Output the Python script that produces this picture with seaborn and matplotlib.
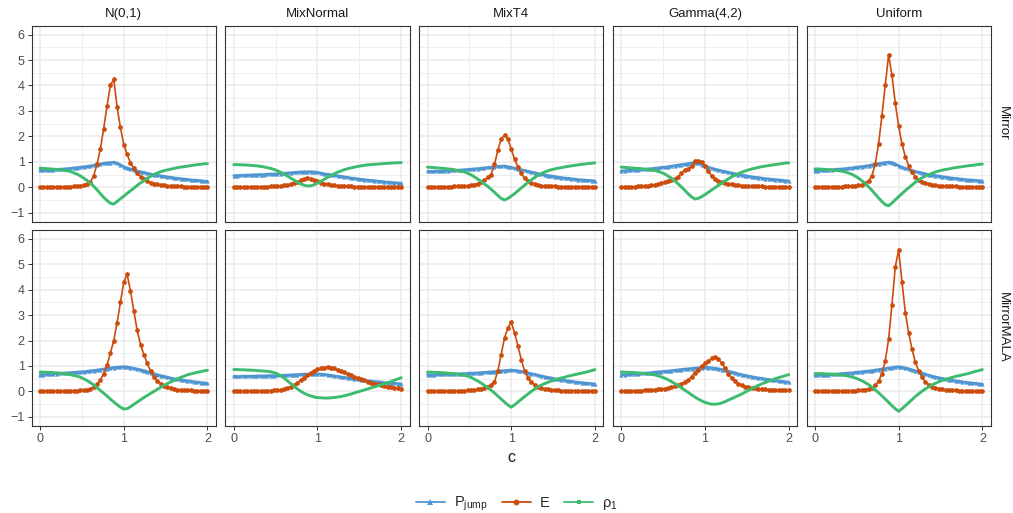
import numpy as np
import pandas as pd
import seaborn as sns
import matplotlib
matplotlib.use('Agg')
import matplotlib.pyplot as plt
from matplotlib.ticker import FixedLocator

# grid of c values (0 .. 2 step 0.04)
c = np.round(np.linspace(0, 2, 51), 2)

dists = ['N(0,1)', 'MixNormal', 'MixT4', 'Gamma(4,2)', 'Uniform']
samplers = ['Mirror', 'MirrorMALA']
metrics = [r'$\mathregular{P_{jump}}$', 'E', r'$\mathregular{ρ_1}$']

# ---- N(0,1)
pjump_n_m = [0.66,0.66,0.67,0.68,0.69,0.70,0.71,0.72,0.73,0.74,
             0.76,0.77,0.79,0.80,0.82,0.84,0.86,0.89,0.91,0.94,
             0.96,0.97,0.98,0.95,0.88,0.81,0.76,0.72,0.68,0.64,
             0.61,0.58,0.55,0.52,0.49,0.47,0.45,0.43,0.41,0.39,
             0.37,0.35,0.34,0.32,0.31,0.29,0.28,0.27,0.26,0.24,0.23]
e_n_m = [0.01,0.01,0.01,0.01,0.01,0.01,0.01,0.02,0.02,0.02,
         0.03,0.04,0.05,0.08,0.12,0.20,0.45,0.90,1.50,2.30,
         3.20,4.00,4.25,3.15,2.35,1.67,1.30,0.95,0.75,0.55,
         0.42,0.32,0.24,0.18,0.14,0.11,0.08,0.07,0.05,0.04,
         0.04,0.03,0.03,0.02,0.02,0.02,0.02,0.01,0.01,0.01,0.01]
rho_n_m = [0.75,0.74,0.73,0.72,0.71,0.70,0.69,0.67,0.65,0.62,
           0.57,0.52,0.45,0.36,0.27,0.16,0.04,-0.10,-0.25,-0.40,
           -0.52,-0.63,-0.66,-0.56,-0.45,-0.35,-0.24,-0.14,-0.04,0.07,
           0.17,0.26,0.35,0.43,0.50,0.56,0.61,0.65,0.68,0.71,
           0.74,0.77,0.79,0.81,0.83,0.85,0.87,0.89,0.90,0.92,0.93]
pjump_n_mm = [0.66,0.66,0.67,0.68,0.69,0.70,0.71,0.72,0.73,0.74,
              0.75,0.76,0.77,0.78,0.79,0.81,0.82,0.84,0.86,0.88,
              0.90,0.92,0.94,0.95,0.96,0.97,0.96,0.94,0.91,0.88,
              0.85,0.82,0.78,0.74,0.70,0.66,0.62,0.59,0.56,0.53,
              0.50,0.48,0.46,0.44,0.42,0.40,0.38,0.37,0.35,0.34,0.32]
e_n_mm = [0.01,0.01,0.01,0.01,0.01,0.01,0.02,0.02,0.02,0.02,
          0.03,0.03,0.04,0.05,0.07,0.10,0.17,0.28,0.45,0.70,
          1.05,1.50,2.00,2.70,3.50,4.30,4.60,3.95,3.16,2.40,
          1.84,1.45,1.10,0.80,0.58,0.42,0.30,0.22,0.16,0.12,
          0.09,0.07,0.06,0.05,0.04,0.04,0.03,0.03,0.02,0.02,0.02]
rho_n_mm = [0.76,0.76,0.75,0.75,0.74,0.73,0.72,0.70,0.68,0.66,
            0.63,0.60,0.56,0.50,0.43,0.35,0.26,0.15,0.04,-0.07,
            -0.18,-0.30,-0.41,-0.52,-0.62,-0.69,-0.68,-0.60,-0.51,-0.42,
            -0.33,-0.24,-0.16,-0.08,0.00,0.08,0.16,0.24,0.31,0.37,
            0.44,0.50,0.55,0.60,0.65,0.69,0.72,0.75,0.78,0.81,0.83]

# ---- MixNormal
pjump_mn_m = [0.46,0.46,0.47,0.47,0.48,0.48,0.49,0.49,0.50,0.50,
              0.51,0.52,0.52,0.53,0.54,0.55,0.56,0.57,0.58,0.59,
              0.60,0.61,0.61,0.61,0.60,0.58,0.56,0.53,0.51,0.49,
              0.47,0.45,0.43,0.41,0.39,0.36,0.35,0.33,0.31,0.30,
              0.28,0.27,0.26,0.24,0.23,0.21,0.20,0.19,0.18,0.17,0.16]
e_mn_m = [0.00,0.00,0.00,0.00,0.01,0.01,0.01,0.01,0.01,0.02,
          0.02,0.03,0.03,0.04,0.05,0.07,0.09,0.12,0.16,0.21,
          0.27,0.32,0.37,0.33,0.28,0.23,0.18,0.14,0.11,0.09,
          0.07,0.06,0.05,0.04,0.03,0.03,0.02,0.02,0.02,0.01,
          0.01,0.01,0.01,0.01,0.01,0.00,0.00,0.00,0.00,0.00,0.00]
rho_mn_m = [0.89,0.89,0.88,0.88,0.87,0.86,0.85,0.84,0.82,0.80,
            0.77,0.74,0.70,0.65,0.59,0.52,0.44,0.36,0.28,0.20,
            0.13,0.08,0.05,0.06,0.10,0.16,0.23,0.31,0.39,0.46,
            0.53,0.59,0.64,0.69,0.73,0.76,0.79,0.82,0.84,0.86,
            0.88,0.89,0.90,0.91,0.92,0.93,0.94,0.95,0.96,0.96,0.97]
pjump_mn_mm = [0.59,0.59,0.59,0.60,0.60,0.60,0.60,0.61,0.61,0.61,
               0.62,0.62,0.62,0.63,0.63,0.64,0.64,0.65,0.66,0.66,
               0.67,0.68,0.68,0.69,0.69,0.69,0.68,0.67,0.65,0.63,
               0.61,0.59,0.57,0.55,0.53,0.51,0.49,0.47,0.45,0.44,
               0.42,0.41,0.39,0.38,0.37,0.35,0.34,0.33,0.32,0.31,0.30]
e_mn_mm = [0.00,0.00,0.00,0.00,0.01,0.01,0.01,0.01,0.02,0.02,
           0.03,0.03,0.04,0.05,0.07,0.10,0.13,0.18,0.25,0.34,
           0.44,0.54,0.64,0.73,0.81,0.87,0.91,0.94,0.95,0.94,
           0.91,0.86,0.81,0.75,0.69,0.63,0.57,0.52,0.47,0.43,
           0.39,0.35,0.31,0.28,0.25,0.22,0.19,0.17,0.15,0.13,0.11]
rho_mn_mm = [0.86,0.86,0.85,0.85,0.84,0.84,0.83,0.82,0.81,0.80,
             0.79,0.77,0.74,0.69,0.62,0.53,0.42,0.31,0.20,0.10,
             0.01,-0.07,-0.13,-0.18,-0.22,-0.24,-0.25,-0.26,-0.26,-0.25,
             -0.24,-0.22,-0.20,-0.17,-0.14,-0.10,-0.06,-0.02,0.02,0.06,
             0.10,0.14,0.18,0.22,0.26,0.30,0.34,0.39,0.44,0.49,0.54]

# ---- MixT4
pjump_t4_m = [0.62,0.62,0.63,0.63,0.64,0.64,0.65,0.66,0.66,0.67,
              0.68,0.69,0.70,0.71,0.72,0.73,0.75,0.76,0.78,0.79,
              0.81,0.82,0.83,0.83,0.81,0.78,0.75,0.72,0.69,0.66,
              0.63,0.60,0.57,0.54,0.51,0.48,0.46,0.44,0.42,0.40,
              0.38,0.36,0.35,0.33,0.32,0.30,0.29,0.28,0.27,0.26,0.25]
e_t4_m = [0.01,0.01,0.01,0.01,0.01,0.02,0.02,0.02,0.03,0.03,
          0.04,0.05,0.06,0.08,0.10,0.14,0.20,0.28,0.40,0.50,
          0.90,1.45,1.90,2.05,1.90,1.50,1.10,0.80,0.55,0.35,
          0.24,0.16,0.11,0.08,0.06,0.05,0.04,0.03,0.03,0.02,
          0.02,0.02,0.01,0.01,0.01,0.01,0.01,0.01,0.01,0.01,0.01]
rho_t4_m = [0.79,0.78,0.77,0.76,0.75,0.74,0.72,0.71,0.69,0.66,
            0.63,0.60,0.55,0.49,0.41,0.32,0.23,0.13,0.03,-0.08,
            -0.20,-0.32,-0.44,-0.50,-0.44,-0.35,-0.25,-0.14,-0.03,0.08,
            0.19,0.29,0.38,0.47,0.54,0.60,0.65,0.69,0.72,0.75,
            0.77,0.80,0.82,0.84,0.86,0.88,0.90,0.91,0.93,0.94,0.96]
pjump_t4_mm = [0.66,0.66,0.66,0.67,0.67,0.67,0.68,0.68,0.69,0.69,
               0.70,0.70,0.71,0.72,0.72,0.73,0.74,0.75,0.76,0.77,
               0.78,0.80,0.81,0.82,0.83,0.84,0.83,0.81,0.79,0.76,
               0.73,0.70,0.67,0.64,0.61,0.58,0.55,0.53,0.50,0.48,
               0.46,0.44,0.42,0.40,0.38,0.36,0.35,0.33,0.32,0.31,0.29]
e_t4_mm = [0.01,0.01,0.01,0.01,0.01,0.01,0.02,0.02,0.02,0.02,
           0.03,0.03,0.04,0.05,0.06,0.08,0.10,0.13,0.18,0.25,
           0.38,0.80,1.45,2.10,2.50,2.72,2.30,1.80,1.25,0.80,
           0.53,0.36,0.26,0.18,0.13,0.10,0.08,0.06,0.05,0.04,
           0.03,0.03,0.02,0.02,0.02,0.02,0.01,0.01,0.01,0.01,0.01]
rho_t4_mm = [0.76,0.76,0.75,0.75,0.74,0.73,0.72,0.71,0.70,0.68,
             0.66,0.63,0.60,0.55,0.48,0.41,0.33,0.24,0.15,0.05,
             -0.06,-0.18,-0.30,-0.42,-0.53,-0.62,-0.53,-0.42,-0.31,-0.20,
             -0.10,0.00,0.09,0.18,0.25,0.31,0.36,0.41,0.45,0.49,
             0.53,0.56,0.60,0.63,0.66,0.69,0.72,0.75,0.78,0.82,0.86]

# ---- Gamma(4,2)
pjump_g_m = [0.64,0.65,0.66,0.67,0.68,0.69,0.70,0.71,0.72,0.73,
             0.75,0.76,0.78,0.79,0.81,0.83,0.85,0.87,0.89,0.91,
             0.93,0.95,0.96,0.94,0.89,0.84,0.79,0.75,0.71,0.68,
             0.65,0.62,0.59,0.56,0.53,0.50,0.48,0.46,0.43,0.41,
             0.39,0.38,0.36,0.34,0.33,0.31,0.30,0.29,0.27,0.26,0.25]
e_g_m = [0.00,0.01,0.01,0.02,0.02,0.03,0.04,0.05,0.06,0.08,
         0.10,0.12,0.15,0.19,0.23,0.29,0.34,0.42,0.55,0.68,
         0.72,0.82,1.02,1.05,1.00,0.85,0.62,0.45,0.32,0.24,
         0.20,0.16,0.13,0.11,0.09,0.07,0.06,0.05,0.05,0.04,
         0.03,0.03,0.03,0.02,0.02,0.02,0.02,0.01,0.01,0.01,0.01]
rho_g_m = [0.79,0.78,0.77,0.76,0.75,0.74,0.73,0.71,0.70,0.68,
           0.66,0.62,0.58,0.52,0.44,0.35,0.25,0.13,0.01,-0.12,
           -0.26,-0.38,-0.46,-0.44,-0.37,-0.29,-0.20,-0.11,-0.02,0.07,
           0.16,0.25,0.33,0.41,0.48,0.54,0.59,0.64,0.68,0.72,
           0.75,0.78,0.81,0.83,0.85,0.87,0.89,0.91,0.93,0.95,0.96]
pjump_g_mm = [0.66,0.66,0.67,0.68,0.69,0.70,0.71,0.72,0.73,0.74,
              0.76,0.77,0.78,0.79,0.80,0.82,0.83,0.85,0.86,0.88,
              0.89,0.90,0.92,0.93,0.94,0.95,0.94,0.93,0.91,0.89,
              0.86,0.83,0.80,0.76,0.73,0.69,0.66,0.63,0.60,0.58,
              0.55,0.53,0.51,0.49,0.47,0.45,0.43,0.41,0.40,0.38,0.37]
e_g_mm = [0.00,0.01,0.01,0.02,0.02,0.03,0.03,0.04,0.05,0.06,
          0.07,0.08,0.09,0.11,0.13,0.16,0.20,0.25,0.30,0.38,
          0.45,0.58,0.74,0.86,1.00,1.10,1.18,1.30,1.37,1.26,
          1.12,0.92,0.68,0.52,0.40,0.30,0.24,0.19,0.16,0.14,
          0.12,0.10,0.09,0.08,0.07,0.06,0.06,0.05,0.05,0.04,0.04]
rho_g_mm = [0.76,0.76,0.75,0.75,0.74,0.73,0.72,0.70,0.69,0.67,
            0.65,0.61,0.57,0.52,0.46,0.39,0.31,0.23,0.14,0.05,
            -0.04,-0.13,-0.22,-0.30,-0.37,-0.43,-0.47,-0.50,-0.50,-0.49,
            -0.45,-0.40,-0.34,-0.28,-0.22,-0.16,-0.10,-0.03,0.04,0.11,
            0.18,0.24,0.30,0.35,0.40,0.45,0.50,0.54,0.58,0.62,0.66]

# ---- Uniform
pjump_u_m = [0.64,0.65,0.66,0.67,0.68,0.69,0.70,0.71,0.72,0.73,
             0.75,0.76,0.78,0.80,0.81,0.83,0.85,0.88,0.90,0.93,
             0.95,0.97,0.99,0.97,0.91,0.85,0.79,0.74,0.70,0.66,
             0.62,0.59,0.56,0.53,0.50,0.48,0.46,0.44,0.42,0.40,
             0.38,0.36,0.35,0.33,0.32,0.30,0.29,0.28,0.27,0.26,0.25]
e_u_m = [0.01,0.01,0.01,0.01,0.01,0.01,0.02,0.02,0.02,0.03,
         0.03,0.04,0.05,0.07,0.10,0.15,0.25,0.45,0.90,1.70,
         2.80,4.00,5.20,4.40,3.30,2.40,1.70,1.20,0.85,0.60,
         0.42,0.30,0.22,0.16,0.12,0.09,0.07,0.06,0.05,0.04,
         0.03,0.03,0.03,0.02,0.02,0.02,0.02,0.01,0.01,0.01,0.01]
rho_u_m = [0.72,0.72,0.71,0.70,0.69,0.68,0.67,0.65,0.63,0.60,
           0.56,0.51,0.44,0.36,0.26,0.15,0.02,-0.12,-0.27,-0.42,
           -0.56,-0.68,-0.73,-0.62,-0.49,-0.37,-0.25,-0.13,-0.02,0.09,
           0.20,0.29,0.37,0.44,0.50,0.55,0.60,0.64,0.67,0.70,
           0.72,0.75,0.77,0.79,0.81,0.83,0.85,0.86,0.88,0.90,0.91]
pjump_u_mm = [0.63,0.64,0.65,0.65,0.66,0.67,0.68,0.69,0.70,0.71,
              0.72,0.73,0.75,0.76,0.77,0.79,0.80,0.82,0.84,0.86,
              0.88,0.90,0.92,0.94,0.96,0.97,0.95,0.92,0.89,0.85,
              0.81,0.77,0.72,0.68,0.64,0.60,0.57,0.54,0.51,0.49,
              0.46,0.44,0.42,0.40,0.38,0.36,0.35,0.33,0.32,0.30,0.29]
e_u_mm = [0.01,0.01,0.01,0.01,0.01,0.01,0.01,0.02,0.02,0.02,
          0.02,0.03,0.03,0.04,0.05,0.07,0.10,0.15,0.24,0.40,
          0.70,1.20,2.05,3.40,4.90,5.55,4.30,3.10,2.30,1.65,
          1.15,0.80,0.55,0.38,0.26,0.19,0.14,0.11,0.08,0.06,
          0.05,0.04,0.04,0.03,0.03,0.02,0.02,0.02,0.02,0.01,0.01]
rho_u_mm = [0.70,0.70,0.70,0.69,0.69,0.68,0.67,0.66,0.65,0.63,
            0.60,0.57,0.53,0.48,0.42,0.35,0.27,0.17,0.06,-0.05,
            -0.17,-0.30,-0.43,-0.56,-0.68,-0.78,-0.68,-0.56,-0.44,-0.32,
            -0.20,-0.09,0.01,0.10,0.18,0.26,0.32,0.38,0.43,0.47,
            0.51,0.55,0.59,0.62,0.65,0.68,0.71,0.75,0.79,0.82,0.86]

series = {
    ('N(0,1)', 'Mirror'): (pjump_n_m, e_n_m, rho_n_m),
    ('N(0,1)', 'MirrorMALA'): (pjump_n_mm, e_n_mm, rho_n_mm),
    ('MixNormal', 'Mirror'): (pjump_mn_m, e_mn_m, rho_mn_m),
    ('MixNormal', 'MirrorMALA'): (pjump_mn_mm, e_mn_mm, rho_mn_mm),
    ('MixT4', 'Mirror'): (pjump_t4_m, e_t4_m, rho_t4_m),
    ('MixT4', 'MirrorMALA'): (pjump_t4_mm, e_t4_mm, rho_t4_mm),
    ('Gamma(4,2)', 'Mirror'): (pjump_g_m, e_g_m, rho_g_m),
    ('Gamma(4,2)', 'MirrorMALA'): (pjump_g_mm, e_g_mm, rho_g_mm),
    ('Uniform', 'Mirror'): (pjump_u_m, e_u_m, rho_u_m),
    ('Uniform', 'MirrorMALA'): (pjump_u_mm, e_u_mm, rho_u_mm),
}

frames = []
for (dist, samp), vals in series.items():
    for name, v in zip(metrics, vals):
        frames.append(pd.DataFrame({'c': c, 'value': v, 'metric': name,
                                    'dist': dist, 'sampler': samp}))
df = pd.concat(frames, ignore_index=True)

sns.set_theme(style='white')
plt.rcParams['font.family'] = ['Liberation Sans', 'DejaVu Sans']
plt.rcParams['mathtext.fontset'] = 'custom'
plt.rcParams['mathtext.rm'] = 'Liberation Sans'
plt.rcParams['mathtext.it'] = 'Liberation Sans:italic'

palette = {metrics[0]: '#4E95D1', metrics[1]: '#CC4C0C', metrics[2]: '#3DBB6F'}
marker_map = {metrics[0]: '^', metrics[1]: 'o', metrics[2]: 's'}
# per-series line width / marker size (applied after drawing)
line_w = [1.9, 1.2, 2.1]
mark_s = [3.0, 3.4, 2.0]

fig, axes = plt.subplots(2, 5, figsize=(10.13, 5.13), dpi=100, sharex=True, sharey=True)
fig.subplots_adjust(left=0.0313, right=0.978, top=0.95, bottom=0.17,
                    wspace=0.052, hspace=0.042)

for i, samp in enumerate(samplers):
    for j, dist in enumerate(dists):
        ax = axes[i, j]
        sub = df[(df['dist'] == dist) & (df['sampler'] == samp)]
        sns.lineplot(data=sub, x='c', y='value', hue='metric', style='metric',
                     hue_order=metrics, style_order=metrics, palette=palette,
                     markers=marker_map, dashes=False, estimator=None, sort=False,
                     lw=1.3, markersize=3.2, markeredgewidth=0,
                     legend=(i == 0 and j == 0), ax=ax)
        for k, ln in enumerate(ax.lines[:3]):
            ln.set_linewidth(line_w[k])
            ln.set_markersize(mark_s[k])
        ax.set_xlim(-0.1, 2.1)
        ax.set_ylim(-1.35, 6.35)
        ax.xaxis.set_major_locator(FixedLocator([0, 1, 2]))
        ax.xaxis.set_minor_locator(FixedLocator([0.5, 1.5]))
        ax.yaxis.set_major_locator(FixedLocator(list(range(-1, 7))))
        ax.yaxis.set_minor_locator(FixedLocator(list(np.arange(-0.5, 6, 1.0))))
        ax.grid(which='major', color='#EBEBEB', lw=1.1)
        ax.grid(which='minor', color='#EBEBEB', lw=0.55)
        ax.set_axisbelow(True)
        for sp in ax.spines.values():
            sp.set_color('#333333')
            sp.set_linewidth(0.8)
        ax.tick_params(which='major', direction='out', length=3, width=0.7,
                       color='#333333', labelsize=9, labelcolor='#4D4D4D',
                       left=(j == 0), bottom=(i == 1), pad=2)
        ax.tick_params(which='minor', length=0)
        ax.set_xlabel('')
        ax.set_ylabel('')
        if i == 0:
            ax.set_title(dist, fontsize=9.5, color='#1A1A1A', pad=6)
        if j == 4:
            ax.text(1.065, 0.5, samp, transform=ax.transAxes, rotation=270,
                    ha='center', va='center', fontsize=9.5, color='#1A1A1A')

leg = axes[0, 0].get_legend()
handles = leg.legend_handles
labels = [t.get_text() for t in leg.texts]
leg.remove()
for k, h in enumerate(handles):
    h.set_markersize(mark_s[k] + 0.8)
    h.set_linewidth(1.3)

fig.text(0.5045, 1 - 458 / 513, 'c', ha='center', va='center', fontsize=11.5, color='#1A1A1A')
fig.legend(handles, labels, loc='center', bbox_to_anchor=(0.51, 1 - 504 / 513), ncol=3,
           frameon=False, fontsize=10.5, handlelength=2.0, columnspacing=1.0,
           handletextpad=0.6)

fig.savefig('out.png', dpi=100, facecolor='white')
